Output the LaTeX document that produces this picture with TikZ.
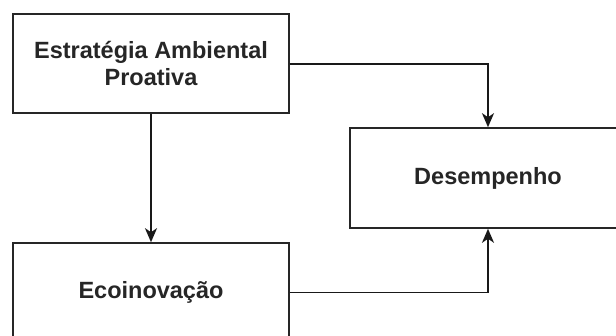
\documentclass[tikz,border=0pt]{standalone}
\usepackage{fontspec}
\setmainfont{Liberation Sans}
\usetikzlibrary{arrows.meta}
\begin{document}
\begin{tikzpicture}[x=1pt,y=-1pt,
  box/.style={draw=black!85,line width=1.6pt,fill=white,minimum width=276pt,minimum height=99pt,inner sep=0pt,align=center,font=\fontsize{23.5}{27}\selectfont\bfseries,text=black!85},
  conn/.style={draw=black!90,line width=1.5pt,-{Stealth[length=14pt,width=12pt,inset=4pt]}}]
\useasboundingbox (0,0) rectangle (616,336);
\clip (0,0) rectangle (616,336);
\fill[white] (0,0) rectangle (616,336);
\node[box] (eap) at (151,63.5) {Estratégia Ambiental\\Proativa};
\node[box] (eco) at (151,292.5) {Ecoinovação};
\node[box,minimum height=100pt] (des) at (488,178) {Desempenho};
\draw[conn] (eap.south) -- (eco.north);
\draw[conn] (eap.east |- 0,64) -| (des.north);
\draw[conn] (eco.east) -| (des.south);
\end{tikzpicture}
\end{document}
